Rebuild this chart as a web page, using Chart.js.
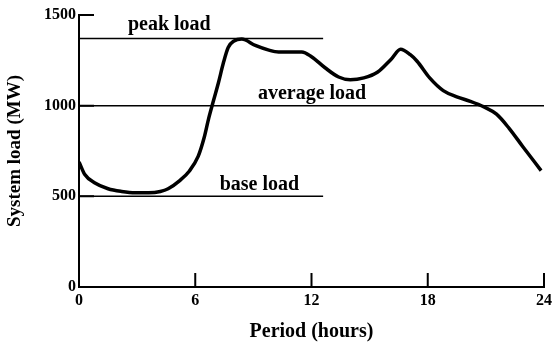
<!DOCTYPE html>
<html>
<head>
<meta charset="utf-8">
<script src="https://cdn.jsdelivr.net/npm/chart.js@4.4.1/dist/chart.umd.min.js"></script>
<style>
  html, body { margin: 0; padding: 0; background: #fff; }
</style>
</head>
<body>
<canvas id="loadChart" width="556" height="345"></canvas>
<script>
// daily load curve, hours vs MW
var hours = [0, 0.3, 0.8, 1.5, 2.2, 2.9, 3.6, 4.2, 4.6, 5.2, 5.7, 6.15, 6.45, 6.7, 6.95, 7.2, 7.45, 7.7, 8.0,
             8.4, 9.1, 9.8, 10.3, 11.5, 12.0, 12.7, 13.4, 14.0, 14.7, 15.4, 16.1, 16.6, 17.1, 17.45, 18.1, 18.8, 19.5, 20.2, 20.9,
             21.55, 22.2, 22.9, 23.85];
var load = [690, 620, 575, 542, 527, 520, 520, 527, 542, 587, 640, 720, 820, 933, 1031, 1128, 1235, 1321, 1357,
            1367, 1332, 1306, 1296, 1296, 1270, 1209, 1158, 1143, 1153, 1184, 1255, 1311, 1281, 1245, 1153, 1083, 1049, 1024, 993,
            953, 875, 775, 642];

// reference levels and how far along the day each line runs
var peakLoad = 1370, averageLoad = 1000, baseLoad = 500;
var peakSpan = [0, 12.6], averageSpan = [0, 24], baseSpan = [0, 12.6];
var levelNames = ['peak load', 'average load', 'base load'];
var levelLabelHour = [4.66, 12.03, 9.31];

var xTicks = [0, 6, 12, 18, 24];
var yTicks = [0, 500, 1000, 1500];

var serif = 'Liberation Serif';

function level(value, span) {
  return span.map(function (h) { return { x: h, y: value }; });
}

function refLine(value, span) {
  return {
    data: level(value, span),
    borderColor: '#000',
    borderWidth: 1.5,
    pointRadius: 0,
    tension: 0
  };
}

// short tick marks pointing into the plot, plus the level captions
var decorations = {
  id: 'decorations',
  afterDatasetsDraw: function (chart) {
    var ctx = chart.ctx, x = chart.scales.x, y = chart.scales.y;
    ctx.save();
    ctx.strokeStyle = '#000';
    ctx.lineWidth = 2;
    ctx.beginPath();
    x.ticks.forEach(function (t) {
      if (t.value === 0) return;
      var px = x.getPixelForValue(t.value);
      ctx.moveTo(px, y.bottom);
      ctx.lineTo(px, y.bottom - 14);
    });
    y.ticks.forEach(function (t) {
      if (t.value === 0) return;
      var py = y.getPixelForValue(t.value);
      ctx.moveTo(x.left, py);
      ctx.lineTo(x.left + 15, py);
    });
    ctx.stroke();

    ctx.fillStyle = '#000';
    ctx.font = 'bold 20px "' + serif + '"';
    ctx.textAlign = 'center';
    ctx.textBaseline = 'alphabetic';
    var values = [peakLoad, averageLoad, baseLoad];
    var gaps = [9, 7, 6];
    levelNames.forEach(function (name, i) {
      ctx.fillText(name, x.getPixelForValue(levelLabelHour[i]), y.getPixelForValue(values[i]) - gaps[i]);
    });
    ctx.restore();
  }
};

var ctx = document.getElementById('loadChart').getContext('2d');
var chart = new Chart(ctx, {
  type: 'line',
  data: {
    datasets: [
      refLine(peakLoad, peakSpan),
      refLine(averageLoad, averageSpan),
      refLine(baseLoad, baseSpan),
      {
        data: hours.map(function (h, i) { return { x: h, y: load[i] }; }),
        borderColor: '#000',
        borderWidth: 3.5,
        pointRadius: 0,
        cubicInterpolationMode: 'monotone'
      }
    ]
  },
  options: {
    responsive: false,
    animation: false,
    devicePixelRatio: 1,
    layout: { padding: { top: 15, right: 8, left: 0, bottom: 0 } },
    plugins: { legend: { display: false }, tooltip: { enabled: false } },
    scales: {
      x: {
        type: 'linear',
        min: 0,
        max: 24,
        afterBuildTicks: function (s) { s.ticks = xTicks.map(function (v) { return { value: v }; }); },
        afterFit: function (s) { s.height = 58; },
        grid: { display: false, drawTicks: false },
        border: { display: true, color: '#000', width: 2 },
        ticks: {
          color: '#000',
          padding: 4,
          maxRotation: 0,
          font: { family: serif, size: 16, weight: 'bold' },
          callback: function (v) { return String(v); }
        },
        title: {
          display: true,
          text: 'Period (hours)',
          color: '#000',
          font: { family: serif, size: 20, weight: 'bold' },
          padding: { top: 2, bottom: 1 }
        }
      },
      y: {
        type: 'linear',
        min: 0,
        max: 1500,
        afterBuildTicks: function (s) { s.ticks = yTicks.map(function (v) { return { value: v }; }); },
        afterFit: function (s) { s.width = 79; },
        grid: { display: false, drawTicks: false },
        border: { display: true, color: '#000', width: 2 },
        ticks: {
          color: '#000',
          padding: 3,
          font: { family: serif, size: 16, weight: 'bold' },
          callback: function (v) { return String(v); }
        },
        title: {
          display: true,
          text: 'System load (MW)',
          color: '#000',
          font: { family: serif, size: 19, weight: 'bold' },
          padding: { top: 4, bottom: 0 }
        }
      }
    }
  },
  plugins: [decorations]
});
</script>
</body>
</html>
